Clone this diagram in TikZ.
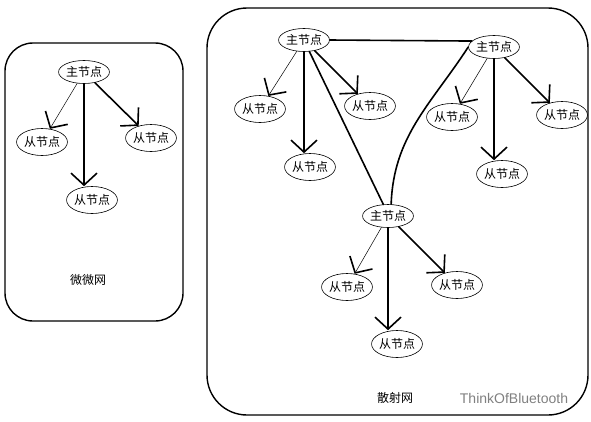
\documentclass[tikz,border=0pt]{standalone}
\usepackage{fontspec}
\newfontfamily\cjk{Noto Sans CJK SC}
\newfontfamily\wmfont{Liberation Sans}
\usetikzlibrary{arrows.meta,shapes.geometric}

\begin{document}
\begin{tikzpicture}[line cap=round,line join=round,x=1pt,y=-1pt,
    zhu/.style={ellipse,draw,line width=0.6pt,inner sep=0pt,minimum width=49pt,minimum height=23pt,font=\cjk\fontsize{12}{14}\selectfont},
    cong/.style={zhu,minimum width=47pt,minimum height=27pt},
    label/.style={font=\cjk\fontsize{12}{14}\selectfont},
    fatarrow/.style={line width=1.6pt,-{Straight Barb[length=12pt,width=26pt,line width=1.6pt]}},
    thinarrow/.style={line width=0.5pt,-{Straight Barb[length=12pt,width=26pt,line width=1.6pt]}},
    link/.style={line width=1.6pt},
    box/.style={line width=1.4pt}]
                \useasboundingbox (0,0) rectangle (591,421);
                \draw [box,rounded corners=28pt] (5,43) rectangle (183,321);
                \draw [box,rounded corners=40pt] (207,8) rectangle (588,415);
                \node [zhu] (lm) at (84,72) {主节点};
                \node [cong] (la) at (42,142) {从节点};
                \node [cong] (lb) at (92,200) {从节点};
                \node [cong] (lc) at (151,138) {从节点};
                \node [label] (lname) at (88,280) {微微网};
                \draw [thinarrow] (lm) -- (la);
                \draw [fatarrow] (lm.south) -- (lm.south |- lb.north);
                \draw [fatarrow] (lm) -- (lc);
                \node [zhu] (ma) at (304,40) {主节点};
                \node [zhu] (mb) at (494,47) {主节点};
                \node [zhu] (mc) at (388,216) {主节点};
                \node [cong] (sa) at (260,109) {从节点};
                \node [cong] (sb) at (370,106) {从节点};
                \node [cong] (sc) at (310,167) {从节点};
                \node [cong] (sd) at (452,117) {从节点};
                \node [cong] (se) at (562,115) {从节点};
                \node [cong] (sf) at (502,174) {从节点};
                \node [cong] (sg) at (347,287) {从节点};
                \node [cong] (sh) at (457,285) {从节点};
                \node [cong] (si) at (397,344) {从节点};
                \node [label] (rname) at (395,398) {散射网};
                \node [font=\wmfont\fontsize{14}{16}\selectfont,text=black!50] (mark) at (514,398) {ThinkOfBluetooth};
                \draw [link] (ma.east) -- (mb.165);
                \draw [link] (ma.295) -- (mc.112);
                \draw [link] (mb.west) to[out=237,in=88] (mc.75);
                \draw [thinarrow] (ma) -- (sa);
                \draw [fatarrow] (ma.south) -- (ma.south |- sc.north);
                \draw [fatarrow] (ma) -- (sb);
                \draw [thinarrow] (mb) -- (sd);
                \draw [fatarrow] (mb.south) -- (mb.south |- sf.north);
                \draw [fatarrow] (mb) -- (se);
                \draw [thinarrow] (mc) -- (sg);
                \draw [fatarrow] (mc.south) -- (mc.south |- si.north);
                \draw [fatarrow] (mc) -- (sh);
            \end{tikzpicture}
\end{document}
